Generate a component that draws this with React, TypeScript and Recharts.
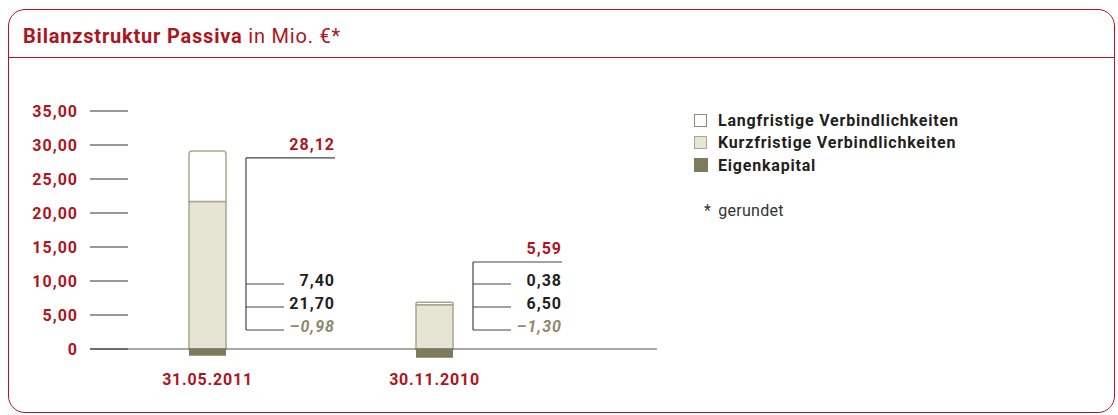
import React from 'react';
import { BarChart, Bar, XAxis, YAxis, ReferenceLine, LabelList } from 'recharts';

// Balance sheet liabilities in Mio. EUR (rounded)
const dates = ['31.05.2011', '30.11.2010'];
const langfristig = [7.4, 0.38];
const kurzfristig = [21.7, 6.5];
const eigenkapital = [-0.98, -1.3];
const totals = [28.12, 5.59];
const yTicks = [0, 5, 10, 15, 20, 25, 30, 35];

const RED = '#ad1520';
const DARK = '#231f20';
const OLIVE = '#7e7b5d';
const BEIGE = '#e6e4d2';
const EDGE = '#a9a78e';
const FONT = 'Roboto, "DejaVu Sans", sans-serif';

const WIDTH = 1118;
const HEIGHT = 415;
const PLOT_LEFT = 90;
const TOP = 111;
const PX_PER_UNIT = 6.8;
const Y_MIN = -2;
const Y_MAX = 35;
const ZERO_Y = TOP + Y_MAX * PX_PER_UNIT;
const X_AXIS_H = 40;
const BOTTOM = HEIGHT - (TOP + (Y_MAX - Y_MIN) * PX_PER_UNIT) - X_AXIS_H;

const chartData = dates.map((d, i) => ({
  date: d,
  eigen: eigenkapital[i],
  kurz: kurzfristig[i],
  lang: langfristig[i],
  total: totals[i],
}));

const fmt = (v: number) => {
  const s = Math.abs(v).toFixed(2).replace('.', ',');
  return v < 0 ? '\u2013' + s : s;
};

const YTick = (props: any) => {
  const { y, payload } = props;
  const v = payload.value as number;
  return (
    <g>
      <line x1={PLOT_LEFT} x2={PLOT_LEFT + 38} y1={y} y2={y} stroke="#333" strokeWidth={1} />
      <text
        x={PLOT_LEFT - 12}
        y={y}
        dy={5.5}
        textAnchor="end"
        fill={RED}
        fontFamily={FONT}
        fontWeight={700}
        fontSize={16}
        letterSpacing={1}
      >
        {v === 0 ? '0' : fmt(v)}
      </text>
    </g>
  );
};

const XTick = (props: any) => {
  const { x, payload } = props;
  return (
    <text
      x={x}
      y={385}
      textAnchor="middle"
      fill={RED}
      fontFamily={FONT}
      fontWeight={700}
      fontSize={16}
      letterSpacing={0.8}
    >
      {payload.value}
    </text>
  );
};

// bracket with the values to the right of each bar
const Annotation = (props: any) => {
  const { x, width, index } = props;
  const bx = Number(x) + Number(width);
  const vx = bx + 20;
  const right = bx + 109;
  const shortEnd = bx + 58;
  const totalY = ZERO_Y - totals[index] * PX_PER_UNIT;
  const topY = Math.min(totalY, ZERO_Y - 87);
  const rows = [
    { y: ZERO_Y - 65, text: fmt(langfristig[index]), color: DARK, italic: false },
    { y: ZERO_Y - 42, text: fmt(kurzfristig[index]), color: DARK, italic: false },
    { y: ZERO_Y - 19, text: fmt(eigenkapital[index]), color: '#8c8a6d', italic: true },
  ];
  const txt = { fontFamily: FONT, fontWeight: 700, fontSize: 16, letterSpacing: 1 } as const;
  return (
    <g>
      <line x1={vx} x2={vx} y1={topY} y2={ZERO_Y - 19} stroke="#444" strokeWidth={1.2} />
      <line x1={vx} x2={right} y1={topY} y2={topY} stroke="#444" strokeWidth={1.2} />
      <text x={right} y={topY - 8} textAnchor="end" fill={RED} {...txt}>
        {fmt(totals[index])}
      </text>
      {rows.map((r, k) => (
        <g key={k}>
          <line x1={vx} x2={shortEnd} y1={r.y} y2={r.y} stroke="#444" strokeWidth={1.2} />
          <text
            x={right}
            y={r.y + 2}
            textAnchor="end"
            fill={r.color}
            fontStyle={r.italic ? 'italic' : 'normal'}
            {...txt}
          >
            {r.text}
          </text>
        </g>
      ))}
    </g>
  );
};

const legendItems = [
  { label: 'Langfristige Verbindlichkeiten', fill: '#fff', border: '#8e8c78', size: 13 },
  { label: 'Kurzfristige Verbindlichkeiten', fill: BEIGE, border: EDGE, size: 13 },
  { label: 'Eigenkapital', fill: OLIVE, border: OLIVE, size: 14 },
];

export default function App() {
  return (
    <div style={{ position: 'absolute', left: 0, top: 0, width: WIDTH, height: HEIGHT, fontFamily: FONT }}>
      {/* card frame */}
      <div
        style={{
          position: 'absolute',
          left: 8,
          top: 9,
          width: 1105,
          height: 402,
          border: `1.5px solid ${RED}`,
          borderRadius: 17,
        }}
      />
      <div style={{ position: 'absolute', left: 9, top: 57, width: 1106, borderTop: `1.5px solid ${RED}` }} />
      <div
        style={{
          position: 'absolute',
          left: 23,
          top: 24,
          fontSize: 20,
          color: RED,
          letterSpacing: 0.8,
          whiteSpace: 'nowrap',
        }}
      >
        <span style={{ fontWeight: 700 }}>Bilanzstruktur Passiva</span> in Mio. €*
      </div>

      {/* legend */}
      <div style={{ position: 'absolute', left: 694, top: 109 }}>
        {legendItems.map((it) => (
          <div key={it.label} style={{ display: 'flex', alignItems: 'center', height: 22.5 }}>
            <div
              style={{
                width: it.size,
                height: it.size,
                boxSizing: 'border-box',
                background: it.fill,
                border: `1px solid ${it.border}`,
                marginRight: 24 - it.size,
              }}
            />
            <span style={{ fontSize: 16, fontWeight: 700, color: DARK, letterSpacing: 0.8, whiteSpace: 'nowrap' }}>
              {it.label}
            </span>
          </div>
        ))}
        <div style={{ marginTop: 24, fontSize: 16, color: '#333', whiteSpace: 'nowrap', letterSpacing: 0.3 }}>
          <span style={{ marginLeft: 10, marginRight: 7 }}>*</span>gerundet
        </div>
      </div>

      <div style={{ position: 'absolute', left: 0, top: 0 }}>
        <BarChart
          width={WIDTH}
          height={HEIGHT}
          data={chartData}
          stackOffset="sign"
          margin={{ top: TOP, right: WIDTH - 657, bottom: BOTTOM, left: 0 }}
        >
          <XAxis
            dataKey="date"
            padding={{ left: 4, right: 109 }}
            axisLine={false}
            tickLine={false}
            height={X_AXIS_H}
            tick={<XTick />}
            interval={0}
          />
          <YAxis
            width={PLOT_LEFT}
            domain={[Y_MIN, Y_MAX]}
            ticks={yTicks}
            interval={0}
            axisLine={false}
            tickLine={false}
            tick={<YTick />}
          />
          <Bar dataKey="eigen" stackId="a" fill={OLIVE} barSize={37} isAnimationActive={false} />
          <Bar dataKey="kurz" stackId="a" fill={BEIGE} stroke={EDGE} strokeWidth={1.5} barSize={37} isAnimationActive={false} />
          <Bar
            dataKey="lang"
            stackId="a"
            fill="#fff"
            stroke={EDGE}
            strokeWidth={1.5}
            barSize={37}
            radius={[3, 3, 0, 0]}
            isAnimationActive={false}
          >
            <LabelList dataKey="total" content={<Annotation />} />
          </Bar>
          <ReferenceLine y={0} stroke="#555" strokeWidth={1.2} />
        </BarChart>
      </div>
    </div>
  );
}
